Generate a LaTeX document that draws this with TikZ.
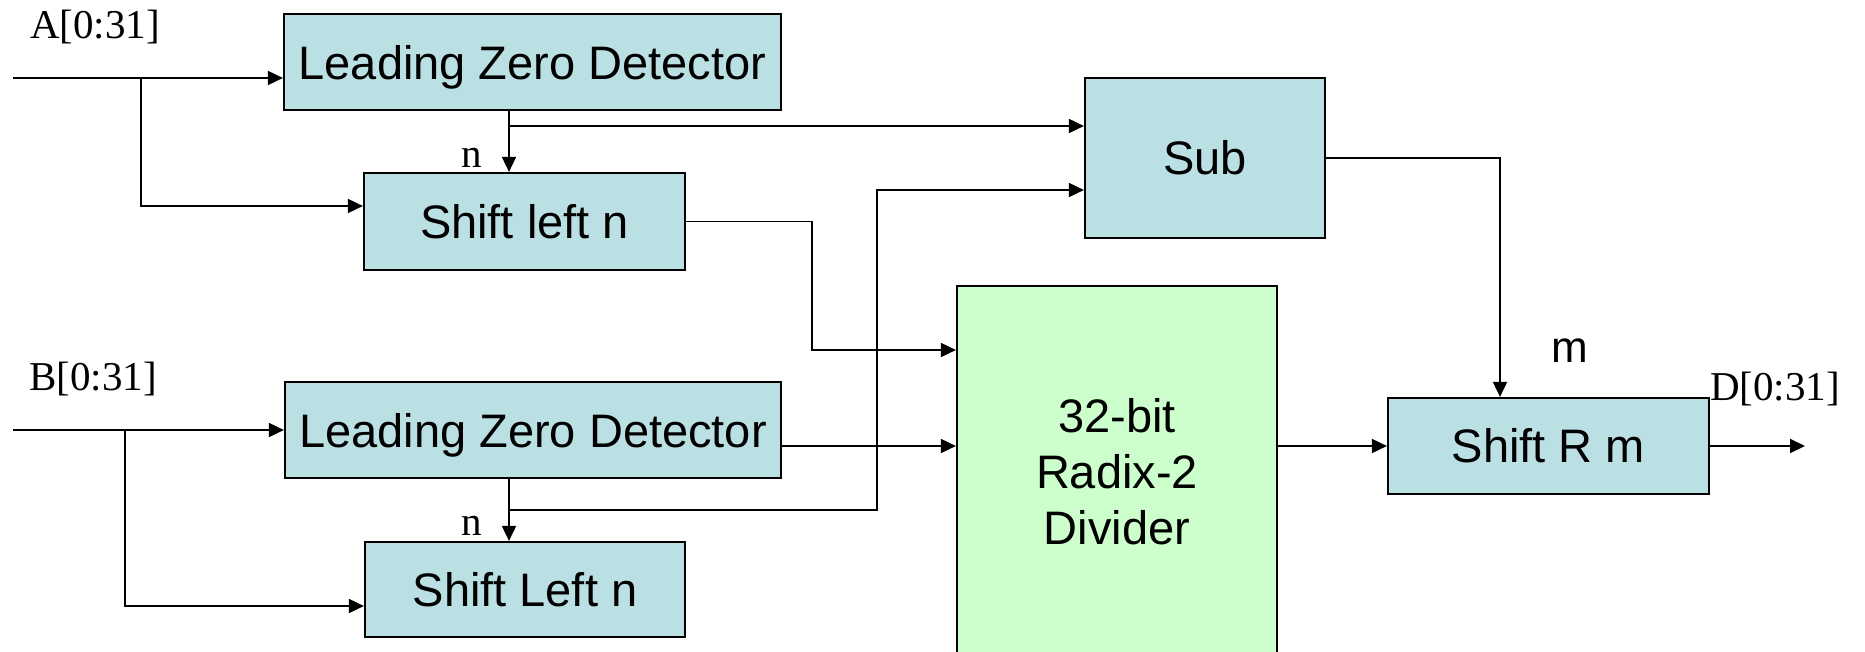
\documentclass[tikz,border=0pt]{standalone}
\usepackage{fontspec}
\setmainfont{Liberation Serif}
\setsansfont{Liberation Sans}
\usetikzlibrary{arrows.meta}
\definecolor{boxcyan}{RGB}{187,224,227}
\definecolor{boxgreen}{RGB}{204,255,204}
\begin{document}
\begin{tikzpicture}[x=1pt,y=-1pt,
  blk/.style={draw=black,line width=2.2pt,fill=boxcyan,inner sep=0pt,
    font=\sffamily\fontsize{47}{56}\selectfont,align=center},
  wire/.style={line width=1.8pt,line join=miter},
  arr/.style={wire,-{Triangle[length=15pt,width=14pt]}},
  lbl/.style={inner sep=0pt,anchor=base west,font=\fontsize{41}{48}\selectfont},
  slbl/.style={inner sep=0pt,anchor=base west,font=\sffamily\fontsize{44}{50}\selectfont}]
\useasboundingbox[fill=white] (0,0) rectangle (1865,652);

% blocks
\node[blk,text depth=0pt,minimum width=497pt,minimum height=96pt] (lzd1) at (532.5,62) {Leading Zero Detector};
\node[blk,minimum width=321pt,minimum height=97pt] (shl1) at (524.5,221.5) {Shift left n};
\node[blk,minimum width=240pt,minimum height=160pt] (sub) at (1205,158) {Sub};
\node[blk,fill=boxgreen,minimum width=320pt,minimum height=372pt] (div) at (1117,472) {32-bit\\Radix-2\\Divider};
\node[blk,text depth=0pt,minimum width=496pt,minimum height=96pt] (lzd2) at (533,430) {Leading Zero Detector};
\node[blk,minimum width=320pt,minimum height=95pt] (shl2) at (525,589.5) {Shift Left n};
\node[blk,minimum width=321pt,minimum height=96pt] (shr) at (1548.5,446) {Shift R m};

% labels
\node[lbl] (la) at (30,39) {A[0:31]};
\node[lbl] (lb) at (29,390) {B[0:31]};
\node[lbl] (ld) at (1710,400) {D[0:31]};
\node[lbl] (ln1) at (461,168) {n};
\node[lbl] (ln2) at (461,535) {n};
\node[slbl] (lm) at (1551,362) {m};

% coordinates
\coordinate (ain) at (13,78);
\coordinate (abr) at (141,78);
\coordinate (abr2) at (141,206);
\coordinate (n1x) at (509,126);
\coordinate (bin) at (13,430);
\coordinate (bbr) at (125,430);
\coordinate (bbr2) at (125,606);
\coordinate (n2x) at (509,510);
\coordinate (subin2) at (877,190);
\coordinate (turn1) at (812,350);
\coordinate (l2out) at (781,446);
\coordinate (mx) at (1500,158);
\coordinate (dout) at (1805,446);

% connectors A
\draw[arr] (ain) -- (lzd1.west |- ain);
\draw[arr] (abr) -- (abr2) -- (shl1.west |- abr2);
\draw[arr] (lzd1.south -| n1x) -- (shl1.north -| n1x);
\draw[arr] (n1x) -- (sub.west |- n1x);
\draw[arr] (shl1.east) -| (turn1) -- (div.west |- turn1);

% connectors B
\draw[arr] (bin) -- (lzd2.west);
\draw[arr] (bbr) -- (bbr2) -- (shl2.west |- bbr2);
\draw[arr] (lzd2.south -| n2x) -- (shl2.north -| n2x);
\draw[arr] (n2x) -| (subin2) -- (sub.west |- subin2);
\draw[arr] (lzd2.east |- l2out) -- (div.west |- l2out);

% output side
\draw[arr] (div.east |- shr.west) -- (shr.west);
\draw[arr] (sub.east) -- (mx) -- (shr.north -| mx);
\draw[arr] (shr.east) -- (dout);
\end{tikzpicture}
\end{document}
